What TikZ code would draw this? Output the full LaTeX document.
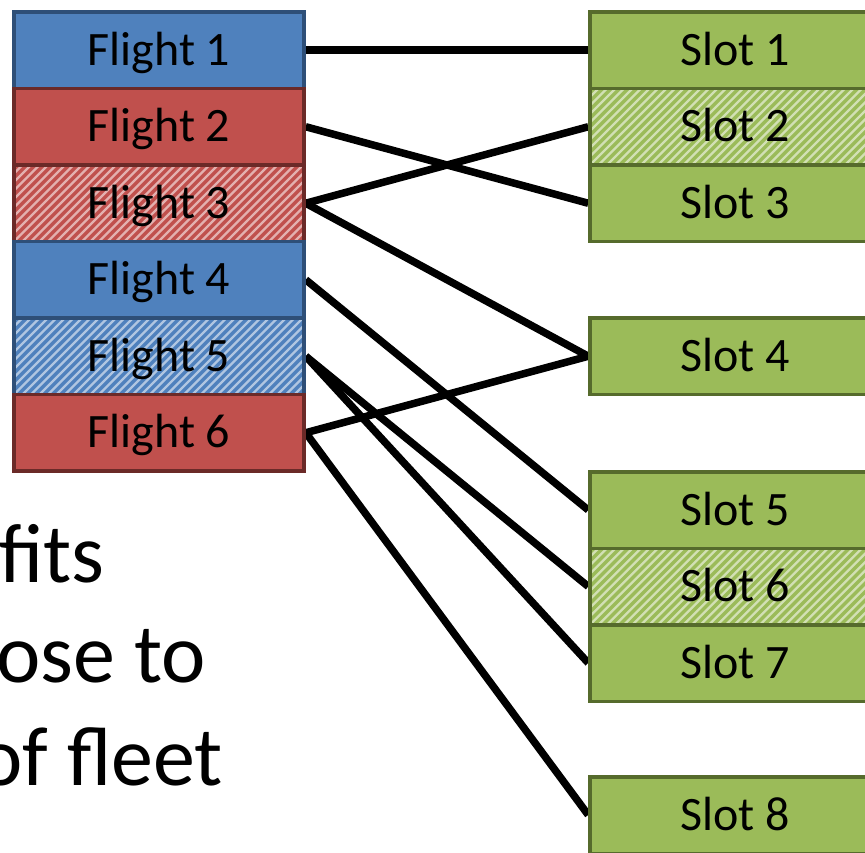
\documentclass[tikz,border=0pt]{standalone}
\usepackage{fontspec}
\setmainfont{Carlito}
\usetikzlibrary{backgrounds}
\definecolor{flblue}{HTML}{4F81BD}
\definecolor{flblueb}{HTML}{2E4F78}
\definecolor{flred}{HTML}{C0504D}
\definecolor{flredb}{HTML}{6B2A28}
\definecolor{slgreen}{HTML}{9BBB59}
\definecolor{slgreenb}{HTML}{566B2C}
\colorlet{bluestripe}{white!55!flblue}
\colorlet{redstripe}{white!55!flred}
\colorlet{greenstripe}{white!55!slgreen}
\tikzset{
  box/.style={rectangle, minimum width=290pt, minimum height=76.5pt, inner sep=0pt,
    line width=3.5pt, text height=30pt, text depth=0pt,
    font=\fontsize{48}{58}\selectfont},
  bluebox/.style={box, fill=flblue, draw=flblueb},
  redbox/.style={box, fill=flred, draw=flredb},
  greenbox/.style={box, fill=slgreen, draw=slgreenb},
  hatch/.style={path picture={
    \foreach \k in {-11,...,36}
      \draw[#1, line width=2.3pt] ([xshift=\k*8.5pt]path picture bounding box.south west) -- ++(85,-85);}},
  link/.style={line width=7.5pt, black},
  bigtext/.style={anchor=base west, inner sep=0pt, font=\fontsize{84}{100}\selectfont}
}
\begin{document}
\begin{tikzpicture}[x=1pt,y=-1pt]
\path[use as bounding box, clip] (0,0) rectangle (865,853);
\node[bluebox] (f1) at (159,50.25) {Flight 1};
\node[redbox] (f2) at (159,126.75) {Flight 2};
\node[redbox, hatch=redstripe] (f3) at (159,203.25) {Flight 3};
\node[bluebox] (f4) at (159,279.75) {Flight 4};
\node[bluebox, hatch=bluestripe] (f5) at (159,356.25) {Flight 5};
\node[redbox] (f6) at (159,432.75) {Flight 6};
\node[greenbox] (s1) at (735,50.25) {Slot 1};
\node[greenbox, hatch=greenstripe] (s2) at (735,126.75) {Slot 2};
\node[greenbox] (s3) at (735,203.25) {Slot 3};
\node[greenbox] (s4) at (735,356.25) {Slot 4};
\node[greenbox] (s5) at (735,510) {Slot 5};
\node[greenbox, hatch=greenstripe] (s6) at (735,586.5) {Slot 6};
\node[greenbox] (s7) at (735,663) {Slot 7};
\node[greenbox] (s8) at (735,815) {Slot 8};
\begin{pgfonlayer}{background}
\draw[link] (f1.east) -- (s1.west);
\draw[link] (f2.east) -- (s3.west);
\draw[link] (f3.east) -- (s2.west);
\draw[link] (f3.east) -- (s4.west);
\draw[link] (f4.east) -- (s5.west);
\draw[link] (f5.east) -- (s6.west);
\draw[link] (f5.east) -- (s7.west);
\draw[link] (f6.east) -- (s4.west);
\draw[link] (f6.east) -- (s8.west);
\end{pgfonlayer}
\node[bigtext] (t1) at (-1,582) {fits};
\node[bigtext] (t2) at (-4,682) {ose to};
\node[bigtext] (t3) at (-22,785) {of fleet};
\end{tikzpicture}
\end{document}
